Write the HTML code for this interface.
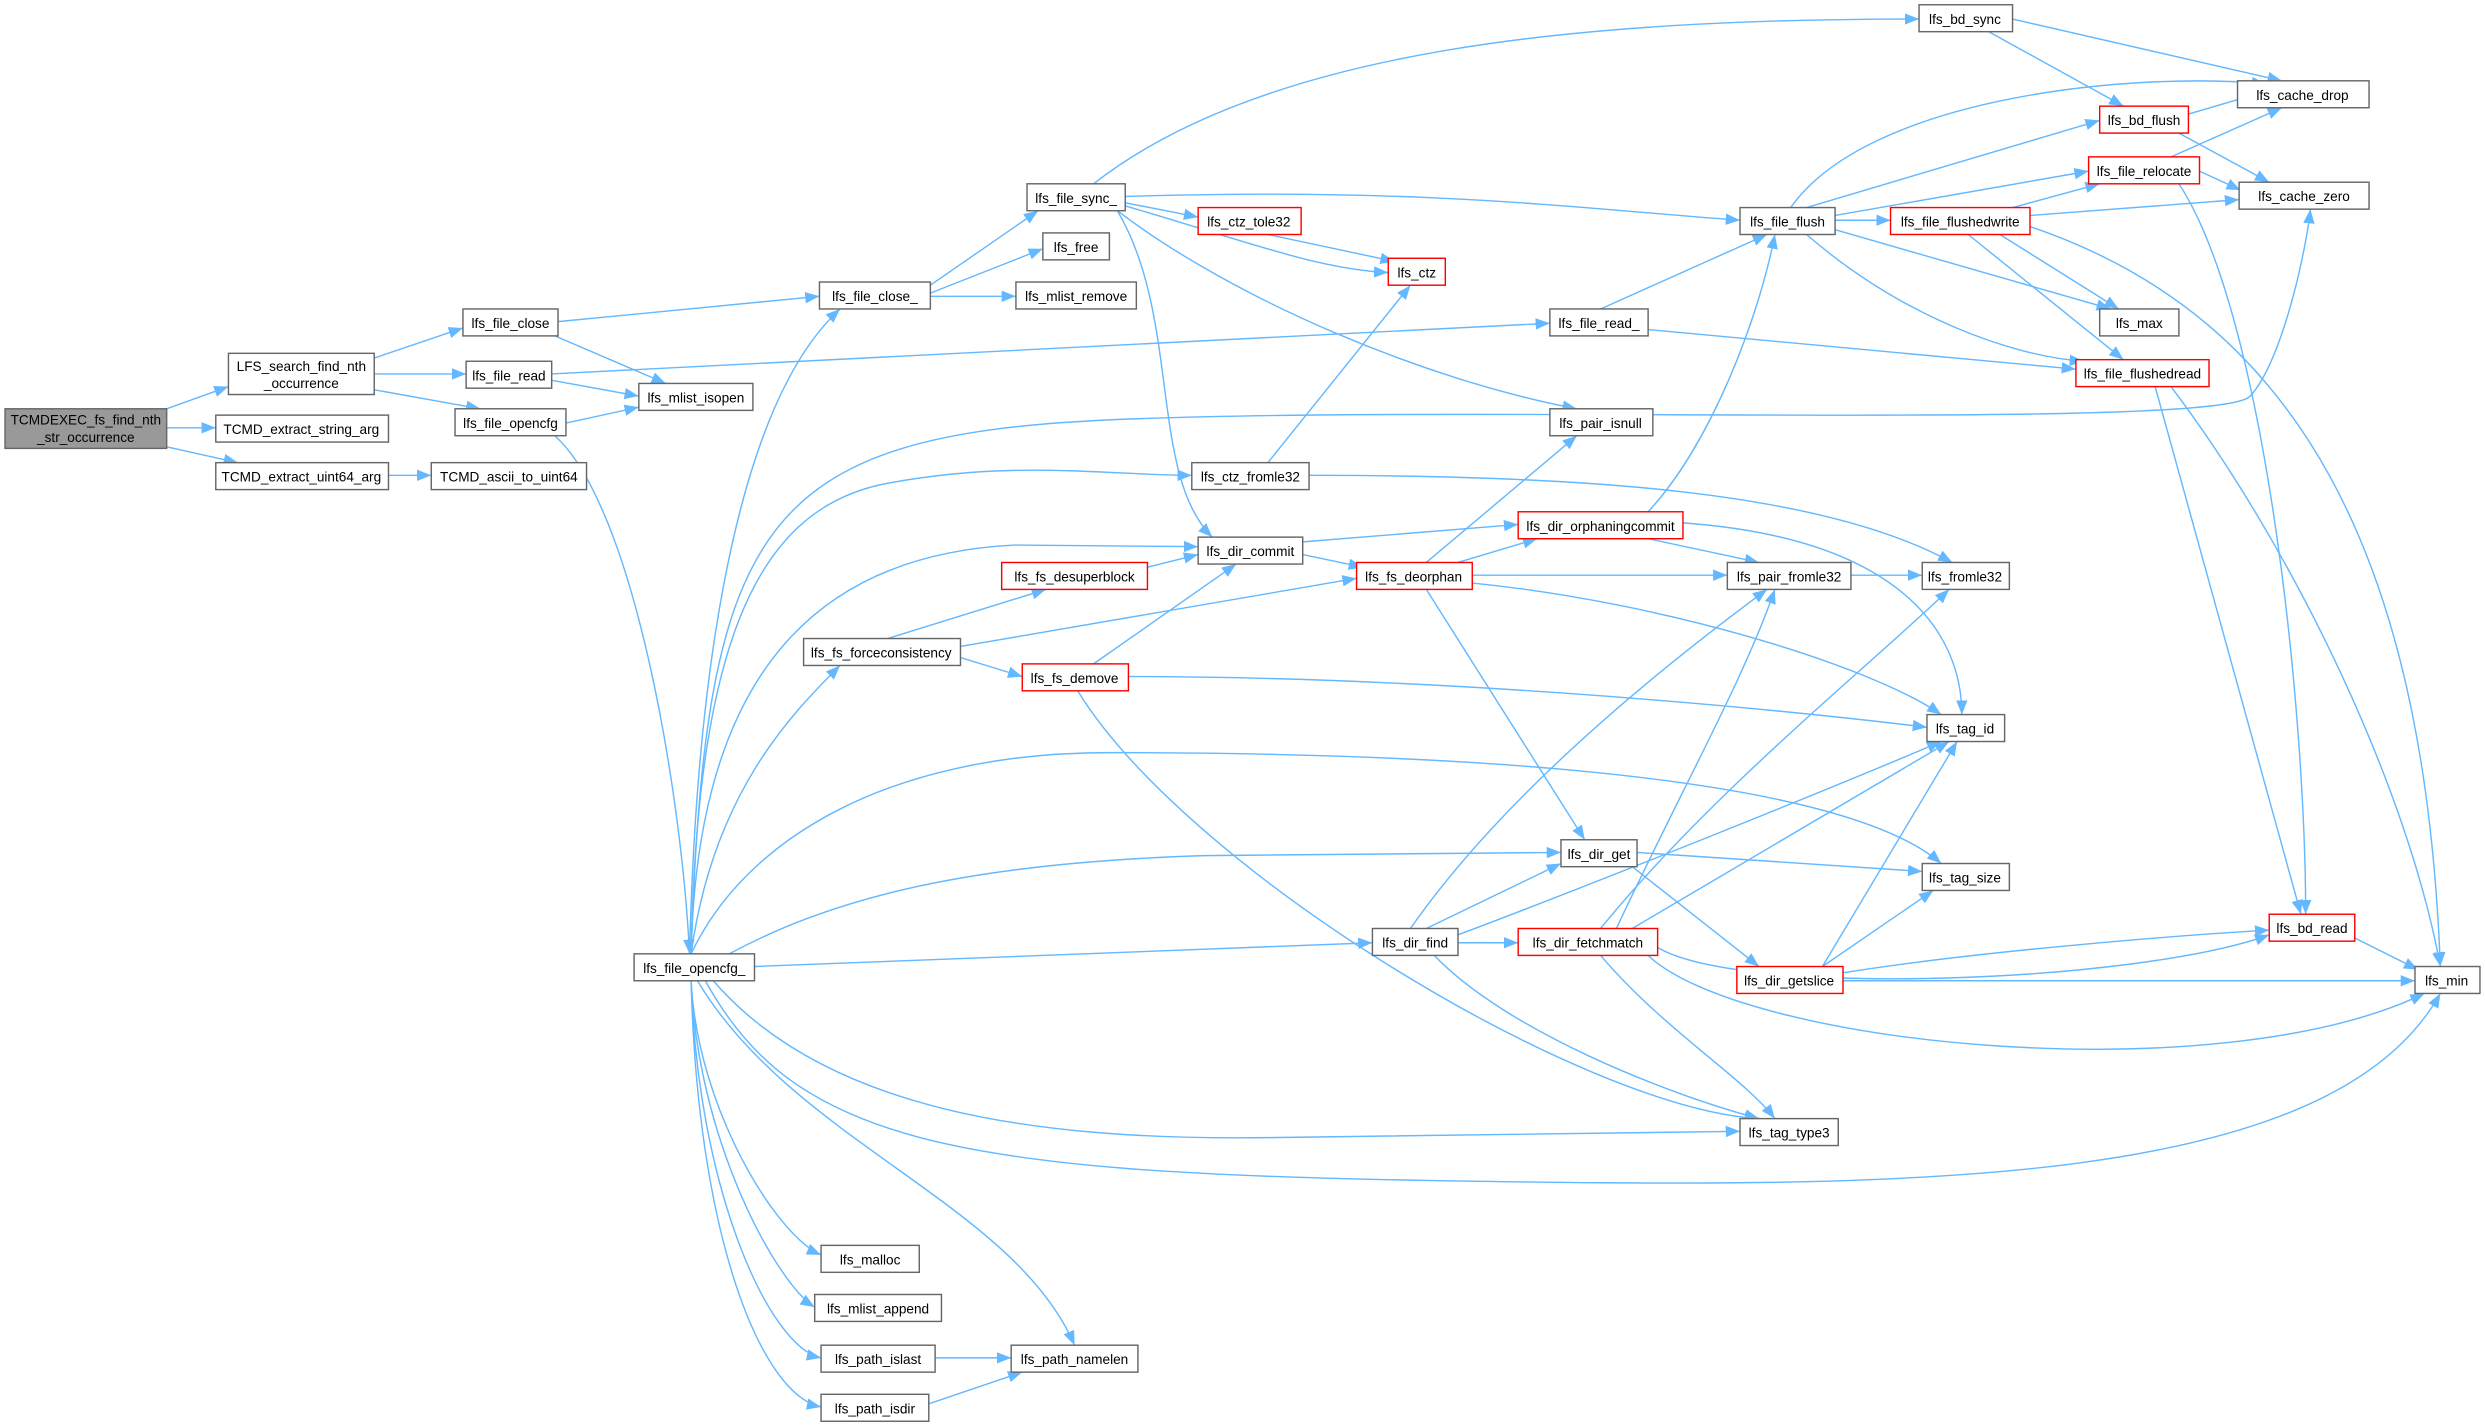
<!DOCTYPE html>
<html><head><meta charset="utf-8"><style>
html,body{margin:0;padding:0;background:#fff}
svg{display:block}
text{font-family:"Liberation Sans",Arial,sans-serif;font-size:8.6px;fill:#000;text-anchor:middle}
.n{fill:#fff;stroke:#666;stroke-width:0.9}
.r{fill:#fff;stroke:#f00;stroke-width:0.9}
.e{fill:none;stroke:#63b8ff;stroke-width:0.9;marker-end:url(#a)}
</style></head><body>
<svg width="2485" height="1426" viewBox="0 0 1568 900" xmlns="http://www.w3.org/2000/svg">
<defs><marker id="a" viewBox="0 0 10 10" refX="10" refY="5" markerWidth="9" markerHeight="9" markerUnits="userSpaceOnUse" orient="auto"><path d="M0,1 L10,5 L0,9 z" fill="#63b8ff"/></marker></defs>
<g>
<path class="e" d="M105,258 L144,244"/>
<path class="e" d="M105,270 L136,270"/>
<path class="e" d="M105,282 L150,292"/>
<path class="e" d="M245,300 L272,300"/>
<path class="e" d="M236,226 L292,207"/>
<path class="e" d="M236,236 L294,236"/>
<path class="e" d="M236,246 L303,258"/>
<path class="e" d="M350,212 L420,242"/>
<path class="e" d="M348,240 L403,250"/>
<path class="e" d="M357,267 L403,257"/>
<path class="e" d="M352,203 L517,187"/>
<path class="e" d="M348,236 L978,204"/>
<path class="e" d="M350,275 C400,320 430,500 435,602"/>
<path class="e" d="M587,180 L655,133"/>
<path class="e" d="M587,185 L658,157"/>
<path class="e" d="M587,187 L641,187"/>
<path class="e" d="M690,116 C800,30 1000,12 1211,12"/>
<path class="e" d="M710,128 L756,137"/>
<path class="e" d="M710,130 C780,150 830,170 876,172"/>
<path class="e" d="M710,124 C900,118 1000,132 1098,139"/>
<path class="e" d="M705,133 C745,200 725,300 765,339"/>
<path class="e" d="M705,133 C780,190 900,240 995,258"/>
<path class="e" d="M800,148 L880,165"/>
<path class="e" d="M800,292 L890,180"/>
<path class="e" d="M826,300 C1000,300 1150,310 1232,355"/>
<path class="e" d="M1010,195 L1115,148"/>
<path class="e" d="M1040,208 L1310,233"/>
<path class="e" d="M1140,131 L1325,76"/>
<path class="e" d="M1130,131 C1180,60 1350,45 1430,53"/>
<path class="e" d="M1158,136 L1318,108"/>
<path class="e" d="M1158,139 L1193,139"/>
<path class="e" d="M1158,145 L1332,195"/>
<path class="e" d="M1140,148 C1200,200 1270,225 1315,228"/>
<path class="e" d="M1255,20 L1340,67"/>
<path class="e" d="M1270,12 L1440,51"/>
<path class="e" d="M1381,72 L1422,60"/>
<path class="e" d="M1375,84 L1432,115"/>
<path class="e" d="M1370,99 L1440,68"/>
<path class="e" d="M1388,108 L1414,120"/>
<path class="e" d="M1375,116 C1430,200 1455,450 1455,577"/>
<path class="e" d="M1270,131 L1325,116"/>
<path class="e" d="M1281,136 L1413,126"/>
<path class="e" d="M1262,148 L1337,195"/>
<path class="e" d="M1242,148 L1340,227"/>
<path class="e" d="M1281,143 C1450,200 1530,350 1540,610"/>
<path class="e" d="M1360,244 L1452,577"/>
<path class="e" d="M1370,244 C1450,350 1520,500 1540,610"/>
<path class="e" d="M1486,592 L1526,612"/>
<path class="e" d="M435,602 C440,400 470,250 530,195"/>
<path class="e" d="M436,602 C445,330 480,275 700,265 S1400,272 1420,250 S1455,160 1458,132"/>
<path class="e" d="M436,602 C440,400 480,320 560,305 S700,300 752,300"/>
<path class="e" d="M436,602 C440,420 520,350 640,344 L756,345"/>
<path class="e" d="M436,602 C450,500 500,450 530,420"/>
<path class="e" d="M436,602 C470,530 560,475 700,475 S1150,480 1225,545"/>
<path class="e" d="M460,602 C520,570 600,545 760,540 L985,538"/>
<path class="e" d="M476,610 L866,595"/>
<path class="e" d="M450,619 C520,700 650,720 800,718 L1098,714"/>
<path class="e" d="M445,619 C500,720 600,740 900,745 S1470,752 1540,627"/>
<path class="e" d="M436,619 C440,700 490,780 518,792"/>
<path class="e" d="M436,619 C440,720 490,810 514,825"/>
<path class="e" d="M436,619 C440,750 485,850 518,857"/>
<path class="e" d="M436,619 C440,780 480,880 518,888"/>
<path class="e" d="M440,619 C500,720 640,760 678,849"/>
<path class="e" d="M590,857 L638,857"/>
<path class="e" d="M586,886 L645,866"/>
<path class="e" d="M560,403 L660,372"/>
<path class="e" d="M606,408 L856,365"/>
<path class="e" d="M606,415 L645,427"/>
<path class="e" d="M724,358 L756,350"/>
<path class="e" d="M690,419 L780,356"/>
<path class="e" d="M712,427 C900,427 1100,445 1216,459"/>
<path class="e" d="M680,436 C750,550 1000,700 1110,706"/>
<path class="e" d="M822,342 L958,331"/>
<path class="e" d="M822,350 L860,358"/>
<path class="e" d="M920,355 L970,340"/>
<path class="e" d="M900,355 L995,275"/>
<path class="e" d="M929,363 L1090,363"/>
<path class="e" d="M929,368 C1050,380 1180,420 1225,451"/>
<path class="e" d="M900,372 L1000,530"/>
<path class="e" d="M1040,323 C1080,280 1110,200 1120,148"/>
<path class="e" d="M1040,340 L1110,355"/>
<path class="e" d="M1062,330 C1200,340 1238,400 1238,451"/>
<path class="e" d="M1168,363 L1213,363"/>
<path class="e" d="M1033,538 L1213,550"/>
<path class="e" d="M1030,547 L1110,610"/>
<path class="e" d="M900,586 L985,545"/>
<path class="e" d="M890,586 C950,500 1050,420 1115,372"/>
<path class="e" d="M920,590 C1000,560 1150,500 1225,468"/>
<path class="e" d="M920,595 L958,595"/>
<path class="e" d="M905,603 C950,650 1050,690 1110,706"/>
<path class="e" d="M1020,586 C1060,500 1100,430 1120,372"/>
<path class="e" d="M1010,586 C1080,500 1180,420 1230,372"/>
<path class="e" d="M1030,586 L1230,468"/>
<path class="e" d="M1010,603 C1050,650 1100,680 1120,706"/>
<path class="e" d="M1046,598 C1100,630 1350,620 1432,590"/>
<path class="e" d="M1040,603 C1100,660 1400,690 1530,627"/>
<path class="e" d="M1150,610 L1235,468"/>
<path class="e" d="M1150,610 L1220,562"/>
<path class="e" d="M1163,614 C1250,600 1380,590 1432,587"/>
<path class="e" d="M1163,619 L1524,619"/>
</g>
<g>
<rect x="3" y="258" width="102" height="25" fill="#999" stroke="#666" stroke-width="0.9"/><text x="54" y="268">TCMDEXEC_fs_find_nth</text><text x="54" y="279">_str_occurrence</text>
<rect class="n" x="144" y="223" width="92" height="26"/><text x="190" y="234">LFS_search_find_nth</text><text x="190" y="245">_occurrence</text>
<rect class="n" x="136" y="262" width="109" height="17"/><text x="190" y="274">TCMD_extract_string_arg</text>
<rect class="n" x="136" y="292" width="109" height="17"/><text x="190" y="304">TCMD_extract_uint64_arg</text>
<rect class="n" x="272" y="292" width="98" height="17"/><text x="321" y="304">TCMD_ascii_to_uint64</text>
<rect class="n" x="292" y="195" width="60" height="17"/><text x="322" y="207">lfs_file_close</text>
<rect class="n" x="294" y="228" width="54" height="17"/><text x="321" y="240">lfs_file_read</text>
<rect class="n" x="287" y="258" width="70" height="17"/><text x="322" y="270">lfs_file_opencfg</text>
<rect class="n" x="403" y="242" width="72" height="17"/><text x="439" y="254">lfs_mlist_isopen</text>
<rect class="n" x="400" y="602" width="76" height="17"/><text x="438" y="614">lfs_file_opencfg_</text>
<rect class="n" x="517" y="178" width="70" height="17"/><text x="552" y="190">lfs_file_close_</text>
<rect class="n" x="648" y="116" width="62" height="17"/><text x="679" y="128">lfs_file_sync_</text>
<rect class="n" x="658" y="147" width="42" height="17"/><text x="679" y="159">lfs_free</text>
<rect class="n" x="641" y="178" width="76" height="17"/><text x="679" y="190">lfs_mlist_remove</text>
<rect class="r" x="756" y="131" width="65" height="17"/><text x="788" y="143">lfs_ctz_tole32</text>
<rect class="r" x="876" y="163" width="36" height="17"/><text x="894" y="175">lfs_ctz</text>
<rect class="n" x="978" y="195" width="62" height="17"/><text x="1009" y="207">lfs_file_read_</text>
<rect class="n" x="978" y="258" width="65" height="17"/><text x="1010" y="270">lfs_pair_isnull</text>
<rect class="n" x="752" y="292" width="74" height="17"/><text x="789" y="304">lfs_ctz_fromle32</text>
<rect class="n" x="756" y="339" width="66" height="17"/><text x="789" y="351">lfs_dir_commit</text>
<rect class="r" x="632" y="355" width="92" height="17"/><text x="678" y="367">lfs_fs_desuperblock</text>
<rect class="n" x="507" y="403" width="99" height="17"/><text x="556" y="415">lfs_fs_forceconsistency</text>
<rect class="r" x="645" y="419" width="67" height="17"/><text x="678" y="431">lfs_fs_demove</text>
<rect class="r" x="856" y="355" width="73" height="17"/><text x="892" y="367">lfs_fs_deorphan</text>
<rect class="r" x="958" y="323" width="104" height="17"/><text x="1010" y="335">lfs_dir_orphaningcommit</text>
<rect class="n" x="1090" y="355" width="78" height="17"/><text x="1129" y="367">lfs_pair_fromle32</text>
<rect class="n" x="1213" y="355" width="55" height="17"/><text x="1240" y="367">lfs_fromle32</text>
<rect class="n" x="1216" y="451" width="49" height="17"/><text x="1240" y="463">lfs_tag_id</text>
<rect class="n" x="1213" y="545" width="55" height="17"/><text x="1240" y="557">lfs_tag_size</text>
<rect class="n" x="985" y="530" width="48" height="17"/><text x="1009" y="542">lfs_dir_get</text>
<rect class="n" x="866" y="586" width="54" height="17"/><text x="893" y="598">lfs_dir_find</text>
<rect class="r" x="958" y="586" width="88" height="17"/><text x="1002" y="598">lfs_dir_fetchmatch</text>
<rect class="r" x="1096" y="610" width="67" height="17"/><text x="1129" y="622">lfs_dir_getslice</text>
<rect class="n" x="1098" y="706" width="62" height="17"/><text x="1129" y="718">lfs_tag_type3</text>
<rect class="r" x="1432" y="577" width="54" height="17"/><text x="1459" y="589">lfs_bd_read</text>
<rect class="n" x="1524" y="610" width="41" height="17"/><text x="1544" y="622">lfs_min</text>
<rect class="n" x="1211" y="3" width="59" height="17"/><text x="1240" y="15">lfs_bd_sync</text>
<rect class="r" x="1325" y="67" width="56" height="17"/><text x="1353" y="79">lfs_bd_flush</text>
<rect class="n" x="1412" y="51" width="83" height="17"/><text x="1453" y="63">lfs_cache_drop</text>
<rect class="n" x="1413" y="115" width="82" height="17"/><text x="1454" y="127">lfs_cache_zero</text>
<rect class="n" x="1098" y="131" width="60" height="17"/><text x="1128" y="143">lfs_file_flush</text>
<rect class="r" x="1318" y="99" width="70" height="17"/><text x="1353" y="111">lfs_file_relocate</text>
<rect class="r" x="1193" y="131" width="88" height="17"/><text x="1237" y="143">lfs_file_flushedwrite</text>
<rect class="n" x="1325" y="195" width="50" height="17"/><text x="1350" y="207">lfs_max</text>
<rect class="r" x="1310" y="227" width="84" height="17"/><text x="1352" y="239">lfs_file_flushedread</text>
<rect class="n" x="518" y="786" width="62" height="17"/><text x="549" y="798">lfs_malloc</text>
<rect class="n" x="514" y="817" width="80" height="17"/><text x="554" y="829">lfs_mlist_append</text>
<rect class="n" x="518" y="849" width="72" height="17"/><text x="554" y="861">lfs_path_islast</text>
<rect class="n" x="638" y="849" width="80" height="17"/><text x="678" y="861">lfs_path_namelen</text>
<rect class="n" x="518" y="880" width="68" height="17"/><text x="552" y="892">lfs_path_isdir</text>
</g>
</svg>
</body></html>
